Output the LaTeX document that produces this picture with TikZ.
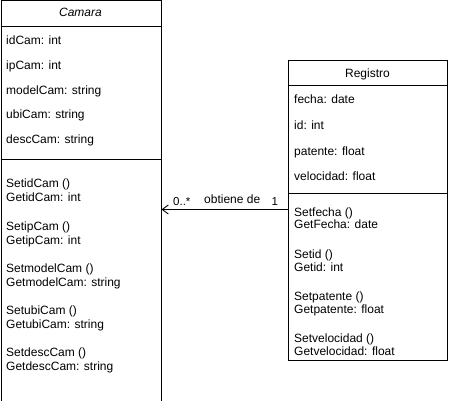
\documentclass[tikz,border=0pt]{standalone}
\usepackage{fontspec}
\setmainfont{Liberation Sans}
\usetikzlibrary{arrows.meta}
\begin{document}
\begin{tikzpicture}[x=1pt,y=-1pt,
  font=\fontsize{12}{14}\selectfont,
  cls/.style={draw, line width=1pt, inner sep=0pt, anchor=north west},
  sepline/.style={line width=1pt},
  txt/.style={anchor=base west, inner sep=0pt},
  lbl/.style={anchor=base west, inner sep=0pt, font=\fontsize{11.5}{13}\selectfont},
  assoc/.style={line width=1pt, -{Straight Barb[length=6pt,width=9pt,line width=0.9pt]}}
]
\useasboundingbox (0,0) rectangle (450,401);
% Camara
\node[cls, minimum width=160pt, minimum height=400pt] (cam) at (0.5,0.5) {};
\draw[sepline] ([yshift=-26pt]cam.north west) -- ([yshift=-26pt]cam.north east);
\draw[sepline] ([yshift=-159pt]cam.north west) -- ([yshift=-159pt]cam.north east);
\node[anchor=base, inner sep=0pt, font=\fontsize{12}{14}\selectfont\itshape] (camt) at (80.5,17) {Camara};
\node[txt] (c1) at (6,45) {idCam: int};
\node[txt] (c2) at (6,70) {ipCam: int};
\node[txt] (c3) at (6,95) {modelCam: string};
\node[txt] (c4) at (6,119) {ubiCam: string};
\node[txt] (c5) at (6,144) {descCam: string};
\node[txt] (m1) at (6,187) {SetidCam ()};
\node[txt] (m2) at (6,201) {GetidCam: int};
\node[txt] (m3) at (6,230) {SetipCam ()};
\node[txt] (m4) at (6,244) {GetipCam: int};
\node[txt] (m5) at (6,272) {SetmodelCam ()};
\node[txt] (m6) at (6,286) {GetmodelCam: string};
\node[txt] (m7) at (6,314) {SetubiCam ()};
\node[txt] (m8) at (6,328) {GetubiCam: string};
\node[txt] (m9) at (6,356) {SetdescCam ()};
\node[txt] (m10) at (6,370) {GetdescCam: string};
% Registro
\node[cls, minimum width=159pt, minimum height=300pt] (reg) at (288,60) {};
\draw[sepline] ([yshift=-26pt]reg.north west) -- ([yshift=-26pt]reg.north east);
\draw[sepline] ([yshift=-134pt]reg.north west) -- ([yshift=-134pt]reg.north east);
\node[anchor=base, inner sep=0pt] (regt) at (367.5,78) {Registro};
\node[txt] (r1) at (294,104) {fecha: date};
\node[txt] (r2) at (294,130) {id: int};
\node[txt] (r3) at (294,156) {patente: float};
\node[txt] (r4) at (294,181) {velocidad: float};
\node[txt] (s1) at (294,216) {Setfecha ()};
\node[txt] (s2) at (294,229) {GetFecha: date};
\node[txt] (s3) at (294,258) {Setid ()};
\node[txt] (s4) at (294,271) {Getid: int};
\node[txt] (s5) at (294,300) {Setpatente ()};
\node[txt] (s6) at (294,313) {Getpatente: float};
\node[txt] (s7) at (294,342) {Setvelocidad ()};
\node[txt] (s8) at (294,355) {Getvelocidad: float};
% association
\coordinate (aend) at (cam.east |- 0,209.5);
\coordinate (astart) at (reg.west |- 0,209.5);
\draw[assoc] (astart) -- (aend);
\node[lbl] (mult0) at (173,205) {0..*};
\node[txt] (role) at (204,204) {obtiene de};
\node[lbl] (mult1) at (271.5,205) {1};
\end{tikzpicture}
\end{document}
